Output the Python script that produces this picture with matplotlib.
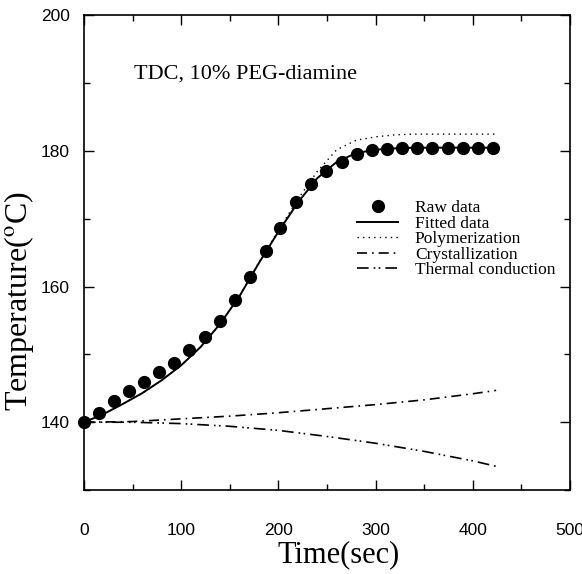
import numpy as np
import matplotlib
matplotlib.use("Agg")
import matplotlib.pyplot as plt
from matplotlib.lines import Line2D
from matplotlib.ticker import MultipleLocator

# raw data points
raw_t = [0, 15, 31, 46, 62, 77, 93, 108, 124, 140, 155, 171, 187, 202,
         218, 234, 249, 265, 281, 296, 312, 327, 343, 358, 374, 390, 405, 421]
raw_T = [140.0, 141.4, 143.1, 144.6, 145.9, 147.4, 148.8, 150.6, 152.5, 155.0,
         158.1, 161.4, 165.3, 168.6, 172.5, 175.2, 177.1, 178.4, 179.6, 180.1,
         180.3, 180.4, 180.4, 180.4, 180.5, 180.5, 180.5, 180.5]

# model curves
fit_t = [0, 20, 40, 60, 80, 100, 120, 140, 160, 180, 200, 220, 240, 260,
         280, 300, 320, 340, 360, 380, 400, 424]
fit_T = [140.0, 141.2, 142.7, 144.3, 146.2, 148.4, 151.1, 154.5, 158.6, 163.5,
         168.1, 172.4, 176.0, 178.4, 179.7, 180.2, 180.4, 180.5, 180.5, 180.5,
         180.5, 180.5]
poly_T = [140.0, 141.2, 142.7, 144.3, 146.2, 148.4, 151.1, 154.5, 158.6, 163.6,
          168.3, 172.9, 177.0, 180.2, 181.6, 182.1, 182.4, 182.5, 182.5, 182.5,
          182.5, 182.5]

lin_t = [0, 50, 100, 150, 200, 250, 300, 350, 400, 424]
cryst_T = [140.0, 140.1, 140.5, 140.9, 141.4, 142.0, 142.6, 143.3, 144.2, 144.7]
therm_T = [140.0, 140.0, 139.8, 139.4, 138.8, 137.9, 136.9, 135.7, 134.3, 133.5]

labels = ["Raw data", "Fitted data", "Polymerization", "Crystallization",
          "Thermal conduction"]

serif = ["Liberation Serif", "DejaVu Serif"]
plt.rcParams["mathtext.fontset"] = "stix"

fig = plt.figure(figsize=(5.82, 5.74), dpi=100)
ax = fig.add_axes([0.1443, 0.1463, 0.8351, 0.8267])

dash_cryst = (0, (6, 3, 1, 3))
dash_therm = (0, (7, 3, 1, 2, 1, 3))

ax.plot(lin_t, cryst_T, color="black", lw=1.2, linestyle=dash_cryst)
ax.plot(lin_t, therm_T, color="black", lw=1.2, linestyle=dash_therm)
ax.plot(fit_t, poly_T, color="black", lw=1.0, linestyle=(0, (1, 3)))
ax.plot(fit_t, fit_T, color="black", lw=1.4)
ax.plot(raw_t, raw_T, "o", color="black", markersize=8.5, clip_on=False, zorder=5)

ax.set_xlim(0, 500)
ax.set_ylim(130, 200)
ax.xaxis.set_major_locator(MultipleLocator(100))
ax.xaxis.set_minor_locator(MultipleLocator(50))
ax.yaxis.set_minor_locator(MultipleLocator(10))
ax.set_yticks([140, 160, 180, 200])

ax.tick_params(which="both", direction="in", top=True, right=True, width=1.0)
ax.tick_params(which="major", length=7)
ax.tick_params(which="minor", length=4)
ax.tick_params(axis="x", pad=24, labelsize=12.5)
ax.tick_params(axis="y", pad=10, labelsize=12.5)
for lab in ax.get_xticklabels() + ax.get_yticklabels():
    lab.set_family("Liberation Sans")
for sp in ax.spines.values():
    sp.set_linewidth(1.2)

ax.set_xlabel("Time(sec)", fontsize=22, family=serif)
ax.set_ylabel(r"Temperature($^{\mathrm{o}}$C)", fontsize=23, family=serif)
ax.xaxis.set_label_coords(0.523, -0.105)
ax.yaxis.set_label_coords(-0.099, 0.398)

ax.text(51, 191.3, "TDC, 10% PEG-diamine", fontsize=16, family=serif,
        va="center", ha="left")

handles = [
    Line2D([], [], marker="o", color="black", linestyle="none", markersize=8.5),
    Line2D([], [], color="black", lw=1.4),
    Line2D([], [], color="black", lw=1.0, linestyle=(0, (1, 3))),
    Line2D([], [], color="black", lw=1.2, linestyle=dash_cryst),
    Line2D([], [], color="black", lw=1.2, linestyle=dash_therm),
]
ax.legend(handles, labels, loc="upper left", bbox_to_anchor=(0.562, 0.611),
          frameon=False, borderpad=0, borderaxespad=0, handlelength=2.35,
          handletextpad=0.97, labelspacing=-0.04,
          prop={"family": serif, "size": 12.5})

fig.savefig("out.png", dpi=100)
